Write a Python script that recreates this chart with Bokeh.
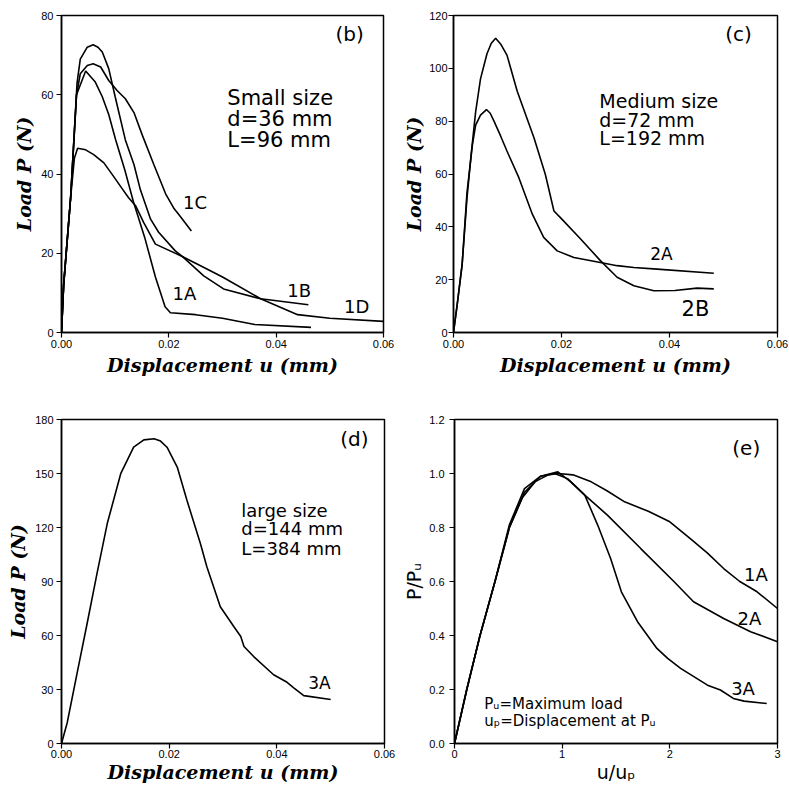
from bokeh.plotting import figure
from bokeh.layouts import column, row
from bokeh.models import Range1d, FixedTicker, CustomJSTickFormatter
from bokeh.core.properties import value
from bokeh.embed import file_html
from bokeh.resources import INLINE

# ---------------- data ----------------
# panel (b) small size
B_1A_x = [0, 0.0004, 0.0017, 0.0028, 0.0045, 0.0063, 0.0076, 0.0088, 0.0101, 0.0118, 0.0134, 0.0155, 0.0175, 0.0193, 0.0203, 0.025, 0.030, 0.036, 0.0465]
B_1A_y = [0, 12, 34, 60, 66, 63.2, 59.5, 55, 48.6, 41, 33, 24, 14, 6.5, 5, 4.5, 3.6, 2.0, 1.3]
B_1B_x = [0, 0.0004, 0.0017, 0.0029, 0.0035, 0.0048, 0.0059, 0.0068, 0.0076, 0.0088, 0.0100, 0.0119, 0.0135, 0.0147, 0.0166, 0.0181, 0.0212, 0.0225, 0.0265, 0.0302, 0.0371, 0.046]
B_1B_y = [0, 12, 34, 63, 69, 72, 72.6, 72, 70.8, 66.6, 59.5, 48.6, 42.4, 36, 28.6, 25.3, 20.6, 19.2, 14.3, 11, 8.5, 7]
B_1C_x = [0, 0.0004, 0.0017, 0.0028, 0.0035, 0.0048, 0.0059, 0.0073, 0.0088, 0.0104, 0.0119, 0.0135, 0.0150, 0.0172, 0.0194, 0.0210, 0.0220, 0.0242]
B_1C_y = [0, 12, 34, 60, 65.3, 67.4, 67.8, 67, 63.6, 61, 59, 55.5, 50, 42.4, 35, 31.2, 29.5, 25.6]
B_1D_x = [0, 0.0004, 0.0017, 0.0024, 0.0030, 0.0045, 0.0060, 0.0079, 0.0097, 0.0112, 0.0125, 0.0138, 0.0153, 0.0175, 0.0225, 0.026, 0.030, 0.0371, 0.044, 0.050, 0.060]
B_1D_y = [0, 12, 34, 44, 46.5, 46.1, 44.9, 42.8, 39.4, 36.5, 34, 32, 27.8, 22.3, 19.2, 16.8, 14, 8.5, 4.5, 3.6, 2.8]

# panel (c) medium size
C_2A_x = [0, 0.0007, 0.0016, 0.0025, 0.0035, 0.0041, 0.0050, 0.0061, 0.0068, 0.0075, 0.0087, 0.0099, 0.0121, 0.0146, 0.0167, 0.0192, 0.0223, 0.0272, 0.0303, 0.0334, 0.0377, 0.0482]
C_2A_y = [0, 10.8, 25.8, 53, 71, 78.5, 82.3, 84.4, 83, 80, 74.5, 68.7, 58.6, 44.8, 36, 30.9, 28.4, 26.5, 25.3, 24.6, 24, 22.4]
C_2B_x = [0, 0.0007, 0.0016, 0.0025, 0.0033, 0.0041, 0.0050, 0.0062, 0.0070, 0.0078, 0.0088, 0.0099, 0.0118, 0.0149, 0.0170, 0.0186, 0.0198, 0.0235, 0.0272, 0.0303, 0.0334, 0.0371, 0.0410, 0.0451, 0.0482]
C_2B_y = [0, 10.8, 25.8, 50.9, 68, 83.5, 96, 105.5, 109.5, 111.4, 109, 105, 91.3, 73.7, 59.9, 46, 43.5, 35.5, 27.2, 20.9, 17.7, 15.8, 15.9, 16.8, 16.5]

# panel (d) large size
D_3A_x = [0, 0.00105, 0.0029, 0.00477, 0.0066, 0.0085, 0.011, 0.0134, 0.0153, 0.0172, 0.0184, 0.0196, 0.0215, 0.0233, 0.0258, 0.027, 0.0295, 0.032, 0.0333, 0.0339, 0.0357, 0.0394, 0.0419, 0.0432, 0.045, 0.05]
D_3A_y = [0, 11.4, 39.1, 66.8, 94.5, 122.2, 149.9, 164.6, 168.7, 169.3, 168, 164.6, 153.6, 135.1, 111.1, 98.2, 76, 65, 59.4, 53.9, 48.3, 38.2, 34, 30.8, 26.6, 24.4]

# panel (e) normalised
E_1A_x = [0, 0.114, 0.237, 0.376, 0.51, 0.63, 0.75, 0.87, 0.96, 1.1, 1.27, 1.42, 1.58, 1.8, 2.0, 2.19, 2.35, 2.5, 2.65, 2.81, 3.0]
E_1A_y = [0, 0.2, 0.4, 0.6, 0.8, 0.91, 0.97, 0.995, 1.0, 0.995, 0.969, 0.935, 0.895, 0.86, 0.821, 0.759, 0.705, 0.648, 0.6, 0.562, 0.5]
E_2A_x = [0, 0.114, 0.237, 0.376, 0.51, 0.65, 0.8, 0.93, 1.05, 1.21, 1.42, 1.73, 2.04, 2.22, 2.5, 2.75, 3.0]
E_2A_y = [0, 0.2, 0.4, 0.6, 0.81, 0.944, 0.99, 1.0, 0.981, 0.92, 0.846, 0.722, 0.599, 0.525, 0.463, 0.414, 0.377]
E_3A_x = [0, 0.114, 0.237, 0.376, 0.51, 0.65, 0.8, 0.96, 1.08, 1.21, 1.33, 1.45, 1.55, 1.7, 1.88, 1.98, 2.1, 2.35, 2.47, 2.59, 2.69, 2.9]
E_3A_y = [0, 0.2, 0.4, 0.6, 0.8, 0.93, 0.99, 1.006, 0.969, 0.92, 0.809, 0.685, 0.562, 0.451, 0.352, 0.315, 0.278, 0.216, 0.198, 0.167, 0.157, 0.148]

# ticks
DISP_TICKS = [0, 0.02, 0.04, 0.06]
B_YTICKS = [0, 20, 40, 60, 80]
C_YTICKS = [0, 20, 40, 60, 80, 100, 120]
D_YTICKS = [0, 30, 60, 90, 120, 150, 180]
E_XTICKS = [0, 1, 2, 3]
E_YTICKS = [0, 0.2, 0.4, 0.6, 0.8, 1.0, 1.2]

SANS = "DejaVu Sans"
TICKFONT = "Liberation Sans"


def fmt(decimals):
    return CustomJSTickFormatter(code="return tick.toFixed(%d);" % decimals)


def make_fig(width, height, left, right, top, bottom, xr, yr, xt, yt, xd, yd):
    p = figure(width=width, height=height, x_range=Range1d(*xr), y_range=Range1d(*yr),
               output_backend="svg", toolbar_location=None,
               min_border_left=left, min_border_right=right,
               min_border_top=top, min_border_bottom=bottom)
    p.grid.visible = False
    p.outline_line_color = "black"
    p.outline_line_width = 1.5
    p.outline_line_alpha = 1.0
    p.background_fill_color = "white"
    p.border_fill_color = "white"
    p.xaxis.ticker = FixedTicker(ticks=xt)
    p.yaxis.ticker = FixedTicker(ticks=yt)
    p.xaxis.formatter = fmt(xd)
    p.yaxis.formatter = fmt(yd)
    for ax in p.axis:
        ax.axis_line_color = "black"
        ax.axis_line_width = 1.5
        ax.major_tick_line_color = "black"
        ax.major_tick_line_width = 1.2
        ax.major_tick_out = 5
        ax.major_tick_in = 0
        ax.minor_tick_out = 0
        ax.minor_tick_in = 0
        ax.major_label_text_font = TICKFONT
        ax.major_label_text_font_size = "11px"
        ax.major_label_text_color = "black"
        ax.axis_label_text_color = "black"
        ax.axis_label_standoff = 3
    p.xaxis.major_label_standoff = 2
    p.yaxis.major_label_standoff = 3
    return p


def serif_labels(p):
    p.xaxis.axis_label = "Displacement u (mm)"
    p.yaxis.axis_label = "Load P (N)"
    for ax in p.axis:
        ax.axis_label_text_font = "DejaVu Serif"
        ax.axis_label_text_font_style = "bold italic"
        ax.axis_label_text_font_size = "19px"


def txt(p, x, y, s, size, align="left"):
    p.text(x=x, y=y, text=s, text_font=value(SANS), text_font_size=value(size),
           text_align=align, text_baseline="middle", text_color="black")


LW = 1.6

# ---- (b)
pb = make_fig(400, 412, 61, 17, 15, 78, (0, 0.06), (0, 80), DISP_TICKS, B_YTICKS, 2, 0)
serif_labels(pb)
for xs, ys in [(B_1A_x, B_1A_y), (B_1B_x, B_1B_y), (B_1C_x, B_1C_y), (B_1D_x, B_1D_y)]:
    pb.line(xs, ys, line_color="black", line_width=LW)
txt(pb, [0.0537], [75.4], ["(b)"], "20px", "center")
txt(pb, [0.0309, 0.0309, 0.0309], [59.3, 53.8, 48.5], ["Small size", "d=36 mm", "L=96 mm"], "21px")
txt(pb, [0.0249, 0.0229, 0.0443, 0.0550], [32.7, 9.8, 10.5, 6.5], ["1C", "1A", "1B", "1D"], "18px", "center")

# ---- (c)
pc = make_fig(388, 412, 53, 11, 13, 80, (0, 0.06), (0, 120), DISP_TICKS, C_YTICKS, 2, 0)
serif_labels(pc)
pc.yaxis.major_label_standoff = 1
pc.yaxis.axis_label_standoff = 1
for xs, ys in [(C_2A_x, C_2A_y), (C_2B_x, C_2B_y)]:
    pc.line(xs, ys, line_color="black", line_width=LW)
txt(pc, [0.0528], [112.9], ["(c)"], "20px", "center")
txt(pc, [0.027, 0.027, 0.027], [87.7, 80.5, 73.7], ["Medium size", "d=72 mm", "L=192 mm"], "19px")
txt(pc, [0.0385], [29.7], ["2A"], "17px", "center")
txt(pc, [0.0448], [9.0], ["2B"], "21px", "center")

# ---- (d)
pd_ = make_fig(400, 373, 61, 16, 7, 42, (0, 0.06), (0, 180), DISP_TICKS, D_YTICKS, 2, 0)
serif_labels(pd_)
pd_.line(D_3A_x, D_3A_y, line_color="black", line_width=LW)
txt(pd_, [0.0544], [168.9], ["(d)"], "20px", "center")
txt(pd_, [0.0334, 0.0334, 0.0334], [129.6, 119.3, 108.3], ["large size", "d=144 mm", "L=384 mm"], "18px")
txt(pd_, [0.0479], [33.8], ["3A"], "17px", "center")

# ---- (e)
pe = make_fig(388, 373, 53, 11, 6, 42, (0, 3), (0, 1.2), E_XTICKS, E_YTICKS, 0, 1)
pe.yaxis.major_label_standoff = 5
pe.yaxis.axis_label_standoff = 1
pe.xaxis.axis_label = "u/u\u209a"
pe.yaxis.axis_label = "P/P\u1d64"
for ax in pe.axis:
    ax.axis_label_text_font = SANS
    ax.axis_label_text_font_style = "normal"
    ax.axis_label_text_font_size = "19px"
for xs, ys in [(E_1A_x, E_1A_y), (E_2A_x, E_2A_y), (E_3A_x, E_3A_y)]:
    pe.line(xs, ys, line_color="black", line_width=LW)
txt(pe, [2.71], [1.093], ["(e)"], "20px", "center")
txt(pe, [2.80, 2.74, 2.68], [0.626, 0.463, 0.204], ["1A", "2A", "3A"], "18px", "center")
txt(pe, [0.277, 0.277], [0.146, 0.083], ["P\u1d64=Maximum load", "u\u209a=Displacement at P\u1d64"], "15px")

for p in (pd_, pe):
    p.xaxis.major_label_standoff = 1
    p.xaxis.axis_label_standoff = 0

layout = column(row(pb, pc), row(pd_, pe))
open("out.html", "w").write(file_html(layout, INLINE))
